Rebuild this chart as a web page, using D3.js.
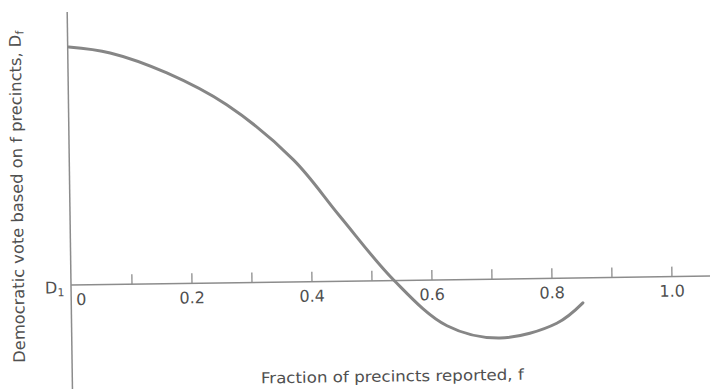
<!DOCTYPE html>
<html>
<head>
<meta charset="utf-8">
<script src="https://d3js.org/d3.v7.min.js"></script>
<style>
  body { margin: 0; background: #fff; }
  text { font-family: "DejaVu Sans", sans-serif; fill: #505050; }
</style>
</head>
<body>
<div id="chart"></div>
<script>
// curve: fraction reported f, and D_f - D1 (arbitrary units)
var fracs = [0, 0.069, 0.163, 0.262, 0.372, 0.448, 0.537, 0.624, 0.712, 0.807, 0.851];
var votes = [2.38, 2.315, 2.107, 1.78, 1.22, 0.65, 0, -0.46, -0.59, -0.45, -0.25];

var tickValues = [0.1, 0.2, 0.3, 0.4, 0.5, 0.6, 0.7, 0.8, 0.9, 1.0];
var tickLabels = ["0", "0.2", "0.4", "0.6", "0.8", "1.0"];
var labelValues = [0, 0.2, 0.4, 0.6, 0.8, 1.0];

var W = 710, H = 389;
var ox = 72, oy = 285;

var x = d3.scaleLinear().domain([0, 1]).range([ox, ox + 600]);
var y = d3.scaleLinear().domain([0, 1]).range([oy, oy - 100]);

var svg = d3.select("#chart").append("svg")
    .attr("width", W)
    .attr("height", H);

// the scanned figure is slightly tilted
var g = svg.append("g")
    .attr("transform", "rotate(-0.8," + ox + "," + oy + ")");

// y axis line
g.append("line")
    .attr("x1", ox - 1).attr("x2", ox - 1)
    .attr("y1", y(2.73)).attr("y2", H + 10)
    .attr("stroke", "#8c8c8c").attr("stroke-width", 1.5);

// x axis line
g.append("line")
    .attr("x1", ox - 1).attr("x2", W + 10)
    .attr("y1", oy).attr("y2", oy)
    .attr("stroke", "#8c8c8c").attr("stroke-width", 1.5);

// ticks pointing up
g.selectAll(".tick")
    .data(tickValues)
    .enter().append("line")
    .attr("x1", function(d) { return x(d); })
    .attr("x2", function(d) { return x(d); })
    .attr("y1", oy)
    .attr("y2", oy - 10)
    .attr("stroke", "#8c8c8c").attr("stroke-width", 1.3);

// tick labels
g.selectAll(".tlabel")
    .data(labelValues)
    .enter().append("text")
    .attr("x", function(d, i) { return i == 0 ? x(d) + 9 : x(d); })
    .attr("y", oy + 20)
    .attr("text-anchor", "middle")
    .style("font-size", "16px")
    .text(function(d, i) { return tickLabels[i]; });

// D1 label
var d1 = g.append("text")
    .attr("x", 45)
    .attr("y", oy + 8)
    .style("font-size", "16px");
d1.append("tspan").text("D");
d1.append("tspan").attr("dy", 3).style("font-size", "11px").text("1");

// the curve
var pts = fracs.map(function(f, i) { return [f, votes[i]]; });
var line = d3.line()
    .x(function(d) { return x(d[0]); })
    .y(function(d) { return y(d[1]); })
    .curve(d3.curveCatmullRom);

g.append("path")
    .datum(pts)
    .attr("d", line)
    .attr("fill", "none")
    .attr("stroke", "#868686")
    .attr("stroke-width", 3)
    .attr("stroke-linecap", "round");

// x axis title
g.append("text")
    .attr("x", 391)
    .attr("y", 386)
    .attr("text-anchor", "middle")
    .attr("textLength", 263)
    .attr("lengthAdjust", "spacingAndGlyphs")
    .style("font-size", "15px")
    .text("Fraction of precincts reported, f");

// y axis title
var yl = g.append("text")
    .attr("transform", "translate(24,196) rotate(-90)")
    .attr("text-anchor", "middle")
    .attr("textLength", 332)
    .attr("lengthAdjust", "spacingAndGlyphs")
    .style("font-size", "16px");
yl.append("tspan").text("Democratic vote based on f precincts, D");
yl.append("tspan").attr("dy", 3).style("font-size", "11px").text("f");
</script>
</body>
</html>
